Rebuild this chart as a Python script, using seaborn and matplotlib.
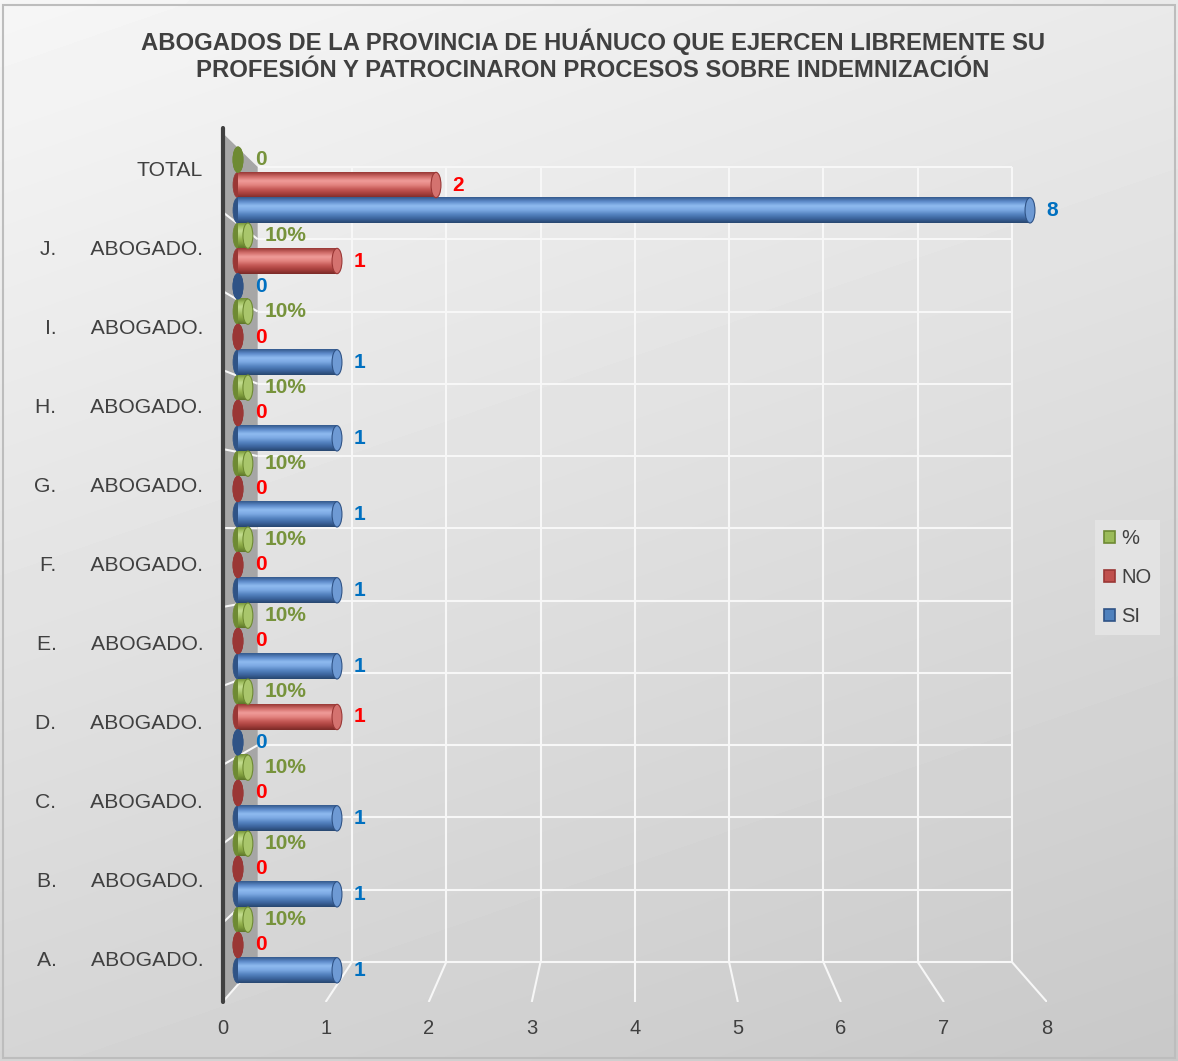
import numpy as np
import pandas as pd
import matplotlib
matplotlib.use("Agg")
import matplotlib.pyplot as plt
import matplotlib.colors as mcolors
from matplotlib.patches import Ellipse, Polygon, Rectangle, Patch
import seaborn as sns

# ---- data ---------------------------------------------------------------
letras = ["A.", "B.", "C.", "D.", "E.", "F.", "G.", "H.", "I.", "J."]
categorias = [f"{l}      ABOGADO." for l in letras] + ["TOTAL"]
si = [1, 1, 1, 0, 1, 1, 1, 1, 1, 0, 8]
no = [0, 0, 0, 1, 0, 0, 0, 0, 0, 1, 2]
pct = [0.10, 0.10, 0.10, 0.10, 0.10, 0.10, 0.10, 0.10, 0.10, 0.10, 0.0]
series = ["%", "NO", "SI"]
x_ticks = [0, 1, 2, 3, 4, 5, 6, 7, 8]
titulo = ("ABOGADOS DE LA PROVINCIA DE HUÁNUCO QUE EJERCEN LIBREMENTE SU\n"
          "PROFESIÓN Y PATROCINARON PROCESOS SOBRE INDEMNIZACIÓN")

df = pd.DataFrame({
    "categoria": categorias * 3,
    "serie": ["SI"] * len(si) + ["NO"] * len(no) + ["%"] * len(pct),
    "valor": si + no + pct,
})
orden = categorias[::-1]

# ---- styling ------------------------------------------------------------
sns.set_theme(style="white")
plt.rcParams["font.family"] = ["Liberation Sans", "DejaVu Sans"]
TXT = "#404040"

palette = {"%": "#9BBB59", "NO": "#C0504D", "SI": "#4F81BD"}
shades = {
    "SI": dict(grad=["#34598C", "#5E8CCB", "#8FBBF0", "#7BA8E2", "#5583C0", "#3C659E", "#28466F"],
               cap="#6E9AD4", dark="#2F5386", label="#0070C0"),
    "NO": dict(grad=["#983835", "#D06C69", "#F09C99", "#E2837F", "#C45855", "#A63F3C", "#7A2A28"],
               cap="#D4726F", dark="#9A3735", label="#FF0000"),
    "%": dict(grad=["#6F8C33", "#A3C263", "#C4DD90", "#B1CE76", "#96B450", "#7C9A3B", "#5E752A"],
              cap="#A9C66B", dark="#6E8A33", label="#77933C"),
}

W, H = 1178, 1061
fig = plt.figure(figsize=(W / 100, H / 100), dpi=100)
fig.patch.set_facecolor("white")


def rect(x0, y0, x1, y1):
    return [x0 / W, 1 - y1 / H, (x1 - x0) / W, (y1 - y0) / H]


# chart-area background with soft grey shading
ax_bg = fig.add_axes([0, 0, 1, 1])
ax_bg.set_zorder(-10)
gy, gx = np.mgrid[0:1:200j, 0:1:220j]
shade = 0.965 - 0.13 * gy - 0.05 * gx
ax_bg.imshow(shade, cmap="gray", vmin=0, vmax=1, extent=(0, 1, 0, 1),
             origin="upper", aspect="auto", interpolation="bicubic")
ax_bg.add_patch(Rectangle((3 / W, 3 / H), 1 - 6 / W, 1 - 8 / H, fill=False,
                          edgecolor="#BDBDBD", lw=1.5))
ax_bg.set_xlim(0, 1)
ax_bg.set_ylim(0, 1)
ax_bg.set_axis_off()

fig.text(0.5035, 1 - 55.5 / H, titulo, ha="center", va="center", ma="center",
         fontsize=17.2, fontweight="bold", color=TXT, linespacing=1.22)

# ---- front frame: walls, floor, axis labels -----------------------------
ax_f = fig.add_axes(rect(222.6, 133, 1047, 1002))
ax_f.set_zorder(1)
ax_f.patch.set_alpha(0)
ax_f.set_xlim(0, 8)
ax_f.set_ylim(11, 0)
for s in ax_f.spines.values():
    s.set_visible(False)

k, cx, cy = 1.093, 4.0, 5.05


def bx(v):
    return cx + (v - cx) / k


def by(u):
    return cy + (u - cy) / k


n_cat = len(orden)
grid_kw = dict(color="#F7F7F7", lw=1.5, solid_capstyle="butt", zorder=1)
ax_f.add_patch(Polygon([(0, 0), (bx(0), by(0)), (bx(0), by(n_cat)), (0, n_cat)],
                       closed=True, facecolor="#A6A6A6", edgecolor="none", zorder=0.5))
for u in range(n_cat + 1):
    ax_f.plot([bx(0), bx(8)], [by(u), by(u)], **grid_kw)
for v in range(1, 9):
    ax_f.plot([bx(v), bx(v)], [by(0), by(n_cat)], **grid_kw)
    ax_f.plot([bx(v), v], [by(n_cat), n_cat], **grid_kw)
for u in range(1, n_cat + 1):
    ax_f.plot([0, bx(0)], [u, by(u)], **grid_kw)
ax_f.plot([0, 0], [-0.06, n_cat], color="#404040", lw=3, clip_on=False, zorder=3)

ax_f.set_xticks(x_ticks)
ax_f.set_xticklabels([str(t) for t in x_ticks])
ax_f.set_yticks([i + 0.45 for i in range(n_cat)])
ax_f.set_yticklabels(orden)
ax_f.tick_params(axis="x", length=0, pad=12, labelsize=14.5, labelcolor=TXT)
ax_f.tick_params(axis="y", length=0, pad=14, labelsize=15.2, labelcolor=TXT)

# ---- bars ---------------------------------------------------------------
ax_b = fig.add_axes(rect(238, 147, 1030, 983))
ax_b.set_zorder(2)
ax_b.patch.set_alpha(0)
sns.barplot(data=df, x="valor", y="categoria", hue="serie", order=orden,
            hue_order=series, palette=palette, saturation=1, width=1.0,
            errorbar=None, orient="h", legend=False, ax=ax_b)

color_to_serie = {mcolors.to_hex(c): s for s, c in palette.items()}
cap_w = 0.1
for container in ax_b.containers:
    for bar in container:
        serie = color_to_serie[mcolors.to_hex(bar.get_facecolor())]
        sh = shades[serie]
        x, y, w, h = bar.get_x(), bar.get_y(), bar.get_width(), bar.get_height()
        yc = y + h / 2
        ax_b.add_patch(Ellipse((x, yc), cap_w, h, facecolor=sh["dark"],
                               edgecolor=sh["dark"], lw=0.6, zorder=2, clip_on=False))
        if w > 0:
            grad = mcolors.LinearSegmentedColormap.from_list("g", sh["grad"])
            col = np.linspace(0, 1, 64)[:, None] * np.ones((1, 4))
            ax_b.imshow(col, cmap=grad, vmin=0, vmax=1, extent=(x, x + w, y + h, y),
                        aspect="auto", interpolation="bicubic", zorder=3, clip_on=False)
        bar.set_facecolor("none")
        bar.set_linewidth(0)
        ax_b.add_patch(Ellipse((x + w, yc), cap_w, h,
                               facecolor=sh["cap"] if w > 0 else sh["dark"],
                               edgecolor=sh["dark"], lw=0.8, zorder=4, clip_on=False))
        if serie == "%":
            txt = "0" if w == 0 else f"{w:.0%}"
        else:
            txt = f"{w:g}"
        ax_b.annotate(txt, (x + w, yc), xytext=(12, 0), textcoords="offset points",
                      ha="left", va="center", fontsize=15, fontweight="bold",
                      color=sh["label"], zorder=6, annotation_clip=False)

ax_b.set_xlim(0, 8)
ax_b.set_ylim(n_cat - 0.5, -0.5)
ax_b.set_axis_off()

# ---- legend -------------------------------------------------------------
handles = [Patch(facecolor=palette[s], edgecolor=shades[s]["dark"], lw=1.2) for s in series]
leg = fig.legend(handles, series, loc="upper left",
                 bbox_to_anchor=(1095 / W, 1 - 520 / H), frameon=True,
                 facecolor="#E3E3E3", edgecolor="none", framealpha=1, fancybox=False,
                 fontsize=14.5, handlelength=0.55, handleheight=0.55,
                 handletextpad=0.3, labelspacing=1.0, borderpad=0.45,
                 borderaxespad=0)
for t in leg.get_texts():
    t.set_color(TXT)

fig.savefig("out.png", dpi=100)
